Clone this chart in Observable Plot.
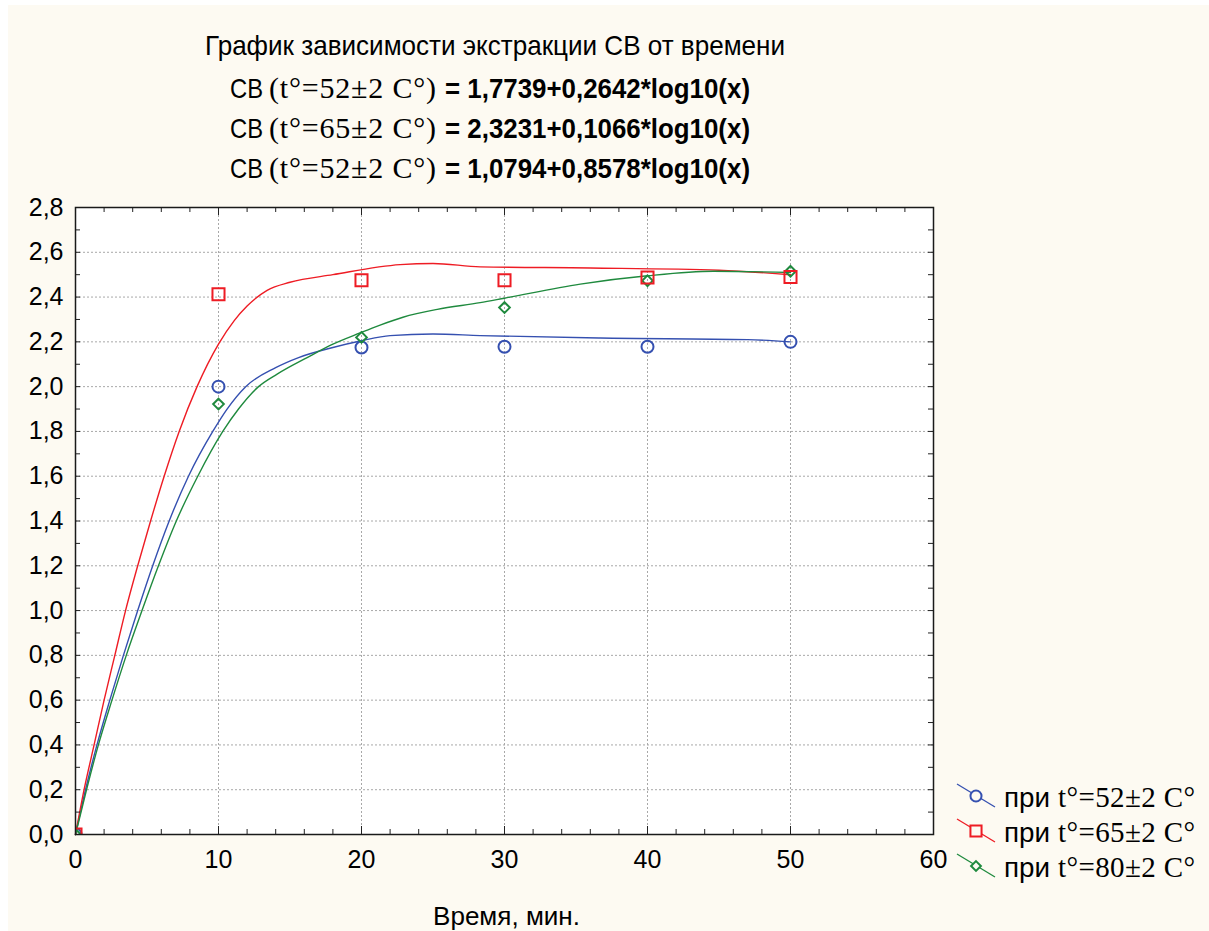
<!DOCTYPE html>
<html><head><meta charset="utf-8">
<script src="https://cdn.jsdelivr.net/npm/d3@7"></script>
<script src="https://cdn.jsdelivr.net/npm/@observablehq/plot@0.6"></script>
<style>
html,body{margin:0;padding:0;background:#fff;}
#page{position:relative;width:1209px;height:931px;overflow:hidden;background:#fff;}
#panel{position:absolute;left:8px;top:5px;right:0;bottom:0;background:#fdfaf2;}
#chart,#overlay{position:absolute;left:0;top:0;}
</style></head>
<body>
<div id="page">
  <div id="panel"></div>
  <div id="chart"></div>
  <div id="overlay"></div>
</div>
<script>
// ---- data ----
const xTimes = [0, 10, 20, 30, 40, 50];
const seriesPrefix = ["при", "при", "при"];
const seriesTemps = ["t°=52±2 C°", "t°=65±2 C°", "t°=80±2 C°"];
const seriesColors = ["#3550b0", "#ee1c24", "#1f8a3e"];
const seriesSymbols = ["circle", "square", "diamond2"];
const obs52 = [0, 2.00, 2.175, 2.178, 2.178, 2.20];
const obs65 = [0, 2.413, 2.475, 2.475, 2.487, 2.49];
const obs80 = [0, 1.922, 2.22, 2.353, 2.473, 2.515];

// fitted curves
const fitX52 = [0, 0.7, 1.5, 2.4, 3.35, 4.35, 5.4, 6.55, 7.9, 9.6, 10.6, 11.9, 14.0, 15.6, 18.0, 20.0, 22.0, 25, 28.3, 36.7, 47, 50];
const fitY52 = [0, 0.2, 0.4, 0.6, 0.8, 1.0, 1.2, 1.4, 1.6, 1.8, 1.9, 2.0, 2.085, 2.13, 2.175, 2.205, 2.228, 2.235, 2.228, 2.217, 2.21, 2.2];
const fitX65 = [0, 0.6, 1.3, 2.0, 2.75, 3.5, 4.35, 5.25, 6.2, 7.25, 8.5, 10, 11.1, 12, 13.4, 15, 18, 22.7, 25, 28.3, 36, 45, 50];
const fitY65 = [0, 0.2, 0.4, 0.6, 0.8, 1.0, 1.2, 1.4, 1.6, 1.8, 2.0, 2.19, 2.295, 2.36, 2.43, 2.466, 2.50, 2.545, 2.55, 2.535, 2.53, 2.52, 2.50];
const fitX80 = [0, 0.77, 1.6, 2.55, 3.55, 4.65, 5.8, 7.05, 8.55, 10.3, 11.4, 12.8, 14.1, 16.2, 18.0, 19.9, 21.3, 22.9, 25.3, 28.3, 30, 35.3, 40, 44.6, 50];
const fitY80 = [0, 0.2, 0.4, 0.6, 0.8, 1.0, 1.2, 1.4, 1.6, 1.8, 1.9, 2.0, 2.056, 2.13, 2.19, 2.24, 2.275, 2.31, 2.345, 2.375, 2.395, 2.458, 2.495, 2.515, 2.51];

const titleText = "График зависимости экстракции СВ от времени";
const eqLabels = ["СВ", "СВ", "СВ"];
const eqTemps = ["(t°=52±2 C°)", "(t°=65±2 C°)", "(t°=52±2 C°)"];
const eqFormulas = ["= 1,7739+0,2642*log10(x)", "= 2,3231+0,1066*log10(x)", "= 1,0794+0,8578*log10(x)"];
const xAxisTitle = "Время, мин.";

const xTickLabels = [0, 10, 20, 30, 40, 50, 60];
const yTickLabels = [0, 0.2, 0.4, 0.6, 0.8, 1.0, 1.2, 1.4, 1.6, 1.8, 2.0, 2.2, 2.4, 2.6, 2.8];
const xMinor = d3.range(0, 61, 2);
const yMinor = d3.range(0, 29).map(i => i / 10);

// ---- build tables ----
const obsAll = [obs52, obs65, obs80];
const fitsX = [fitX52, fitX65, fitX80];
const fitsY = [fitY52, fitY65, fitY80];
const points = [];
obsAll.forEach((arr, s) => arr.forEach((v, i) => points.push({x: xTimes[i], y: v, s})));
const fits = [];
fitsX.forEach((xs, s) => xs.forEach((x, i) => fits.push({x, y: fitsY[s][i], s})));

const SANS = '"Liberation Sans", Arial, sans-serif';
const SERIF = '"Liberation Serif", "Times New Roman", serif';
const W = 1209, H = 931, ML = 75, MR = 276, MT = 207, MB = 97;
const PW = W - ML - MR, PH = H - MT - MB;
const fmt = d => d.toFixed(1).replace(".", ",");
const symR = [6, 6.8, 4.8];

const marks = [
  Plot.frame({fill: "#fff", stroke: null}),
  Plot.gridX(xTickLabels.slice(1, -1), {stroke: "#a8a8a8", strokeOpacity: 1, strokeDasharray: "2,2"}),
  Plot.gridY(yTickLabels.slice(1, -1), {stroke: "#a8a8a8", strokeOpacity: 1, strokeDasharray: "2,2"})
];
[0, 1, 2].forEach(s => {
  marks.push(Plot.line(fits.filter(d => d.s === s), {x: "x", y: "y", stroke: seriesColors[s], strokeWidth: 1.4, curve: "monotone-x"}));
});
[0, 2, 1].forEach(s => {
  marks.push(Plot.dot(points.filter(d => d.s === s), {x: "x", y: "y", symbol: () => seriesSymbols[s], stroke: seriesColors[s], fill: "none", strokeWidth: 2, r: symR[s], clip: true}));
});
marks.push(
  Plot.tickX(xMinor, {x: d => d, insetTop: PH - 5, stroke: "#222"}),
  Plot.tickX(xTickLabels, {x: d => d, insetTop: PH - 8, stroke: "#222"}),
  Plot.tickX(xMinor, {x: d => d, insetBottom: PH - 5, stroke: "#222"}),
  Plot.tickX(xTickLabels, {x: d => d, insetBottom: PH - 8, stroke: "#222"}),
  Plot.tickY(yMinor, {y: d => d, insetRight: PW - 5, stroke: "#222"}),
  Plot.tickY(yMinor, {y: d => d, insetLeft: PW - 5, stroke: "#222"}),
  Plot.frame({stroke: "#1a1a1a", strokeWidth: 1.5}),
  Plot.axisX(xTickLabels, {tickSize: 0, tickPadding: 16, fontSize: 25, label: null, tickFormat: d => String(d)}),
  Plot.axisY(yTickLabels, {tickSize: 0, tickPadding: 12, fontSize: 25, label: null, tickFormat: fmt})
);

const chart = Plot.plot({
  width: W, height: H,
  marginLeft: ML, marginRight: MR, marginTop: MT, marginBottom: MB,
  x: {domain: [0, 60]},
  y: {domain: [0, 2.8]},
  style: {background: "transparent", fontFamily: SANS, color: "#000", overflow: "visible"},
  marks
});
document.getElementById("chart").appendChild(chart);

// ---- overlay texts: title, equations, axis title, legend ----
const svg = d3.select("#overlay").append("svg").attr("width", W).attr("height", H);
function txt(x, y, s, {font = SANS, size = 27, weight = "normal", len = null, adjust = "spacingAndGlyphs"} = {}) {
  const t = svg.append("text").attr("x", x).attr("y", y).text(s)
    .attr("font-family", font).attr("font-size", size).attr("font-weight", weight).attr("fill", "#000");
  if (len) t.attr("textLength", len).attr("lengthAdjust", adjust);
  return t;
}
txt(205, 55, titleText, {size: 28, len: 580});
const eqBase = [98, 138, 178];
eqBase.forEach((y, i) => {
  txt(230, y, eqLabels[i], {size: 28, len: 33});
  txt(269, y, eqTemps[i], {font: SERIF, size: 30, len: 167, adjust: "spacing"});
  txt(445, y, eqFormulas[i], {size: 28, weight: "bold", len: 305});
});
txt(433, 925, xAxisTitle, {size: 26, len: 147});

const symMap = {circle: d3.symbolCircle, square: d3.symbolSquare, diamond2: d3.symbolDiamond2};
const legRow = [797, 832, 867];
legRow.forEach((cy, s) => {
  svg.append("line").attr("x1", 957).attr("y1", cy - 13).attr("x2", 995).attr("y2", cy + 10)
    .attr("stroke", seriesColors[s]).attr("stroke-width", 1.3);
  svg.append("path").attr("transform", `translate(976,${cy - 1})`)
    .attr("d", d3.symbol(symMap[seriesSymbols[s]], Math.PI * symR[s] * symR[s] * 0.85)())
    .attr("fill", "#fdfaf2").attr("stroke", seriesColors[s]).attr("stroke-width", 2);
  txt(1004, cy + 10, seriesPrefix[s], {size: 28, len: 46});
  txt(1058, cy + 10, seriesTemps[s], {font: SERIF, size: 29, len: 137, adjust: "spacing"});
});
</script>
</body></html>
